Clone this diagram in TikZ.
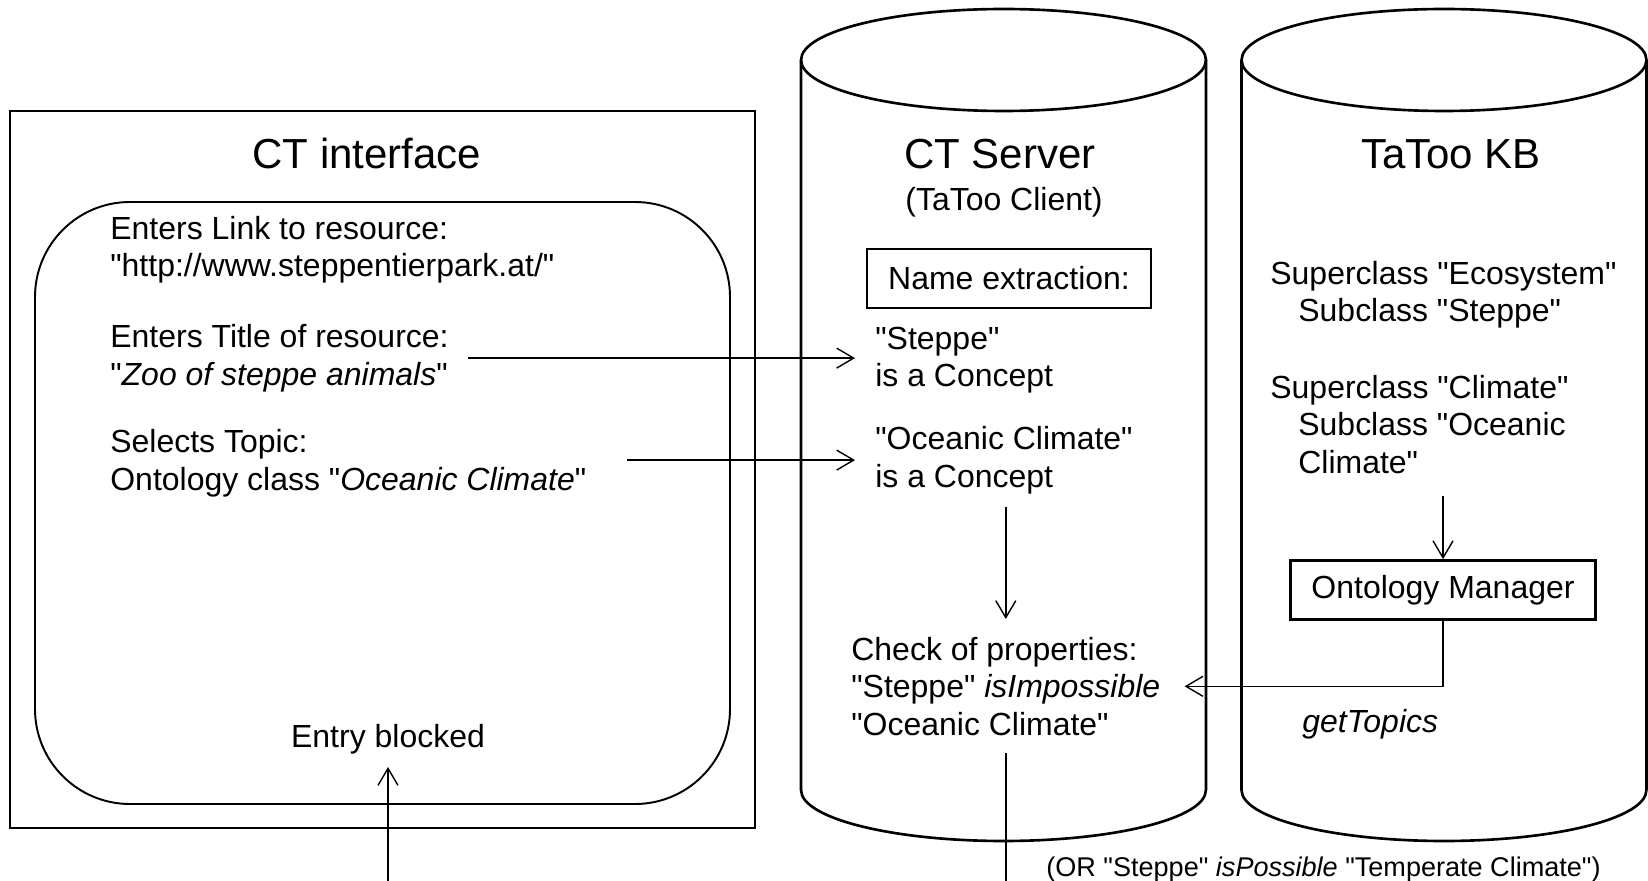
\documentclass[tikz,border=0pt]{standalone}
\usepackage{fontspec}
\setmainfont{Liberation Sans}[Ligatures=TeXOff]
\usetikzlibrary{arrows.meta}
\tikzset{
    txt/.style={inner sep=0pt, align=left, anchor=base west, font=\fontsize{18.2}{21.2}\selectfont},
    heading/.style={inner sep=0pt, anchor=base, font=\fontsize{23.9}{28}\selectfont},
    smalltxt/.style={inner sep=0pt, anchor=base west, font=\fontsize{15.4}{18}\selectfont},
    proc/.style={draw, line width=1.5pt, inner sep=0pt, font=\fontsize{18.2}{21.2}\selectfont},
    arr/.style={-{Straight Barb[length=0.34cm,width=0.4cm]}, line width=0.8pt}
}

\begin{document}
\begin{tikzpicture}
  [
    x                       = 0.02cm,
    y                       = -0.02cm,
    frame/.style            = {line width=1.5pt},
  ]
  \useasboundingbox (0,0) rectangle (1648,881);
  \coordinate (bottomedge) at (0,895);

  % CT interface
  \draw [frame] (10,111) rectangle (755,828);
  \draw [line width=1.1pt, rounded corners=1.9cm] (35,202) rectangle (730,804);
  \node [heading] (ctif) at (367,169) {CT interface};
  \node [txt] (link) at (110,277) {Enters Link to resource:\\"http://www.steppentierpark.at/"};
  \node [txt] (entitle) at (110,385) {Enters Title of resource:\\"\textit{Zoo of steppe animals}"};
  \node [txt] (selects) at (110,490) {Selects Topic:\\Ontology class "\textit{Oceanic Climate}"};
  \node [txt, anchor=base] (entry) at (388,747) {Entry blocked};

  % CT Server
  \draw [frame] (1003.5,60) ellipse [x radius=4.05cm, y radius=1.02cm];
  \draw [frame] (801,60) -- (801,790) arc [start angle=180, end angle=360, x radius=4.05cm, y radius=1.02cm] -- (1206,60);
  \node [heading] (server) at (1000,169) {CT Server};
  \node [txt, anchor=base] (client) at (1004,211) {(TaToo Client)};
  \node [proc, minimum width=5.68cm, minimum height=1.18cm] (extract) at (1009,278.5) {Name extraction:};
  \node [txt] (steppe) at (875,387) {"Steppe"\\is a Concept};
  \node [txt] (oceanic) at (875,487) {"Oceanic Climate"\\is a Concept};
  \node [txt] (check) at (851,735) {Check of properties:\\"Steppe" \textit{isImpossible}\\"Oceanic Climate"};

  % TaToo KB
  \draw [frame] (1444,60) ellipse [x radius=4.05cm, y radius=1.02cm];
  \draw [frame] (1241.5,60) -- (1241.5,790) arc [start angle=180, end angle=360, x radius=4.05cm, y radius=1.02cm] -- (1646.5,60);
  \node [heading] (kb) at (1451,169) {TaToo KB};
  \node [txt] (eco) at (1270,322) {Superclass "Ecosystem"\\\hspace*{0.56cm}Subclass "Steppe"};
  \node [txt] (clim) at (1270,473) {Superclass "Climate"\\\hspace*{0.56cm}Subclass "Oceanic\\\hspace*{0.56cm}Climate"};
  \node [proc, minimum width=6.1cm, minimum height=1.18cm] (manager) at (1443,590) {Ontology Manager};
  \node [txt] (topics) at (1302,732) {\textit{getTopics}};

  \node [smalltxt] (orpos) at (1046,876) {(OR "Steppe" \textit{isPossible} "Temperate Climate")};

  \draw [arr, shorten <=0.38cm, shorten >=0.4cm] (entitle.east) -- (entitle.east -| steppe.west);
  \draw [arr, shorten <=0.8cm, shorten >=0.4cm] (oceanic.west -| selects.east) -- (oceanic.west);
  \draw [arr, shorten <=0.26cm, shorten >=0.36cm] (check.north |- oceanic.south) -- (check.north);
  \draw [line width=0.8pt, shorten <=0.34cm] (check.south) -- (check.south |- bottomedge);
  \draw [arr, shorten >=0.26cm] (entry.south |- bottomedge) -- (entry.south);
  \draw [arr, shorten <=0.44cm] (manager.north |- clim.south) -- (manager.north);
  \draw [arr, shorten >=0.48cm] (manager.south) |- (check.east);
\end{tikzpicture}
\end{document}
